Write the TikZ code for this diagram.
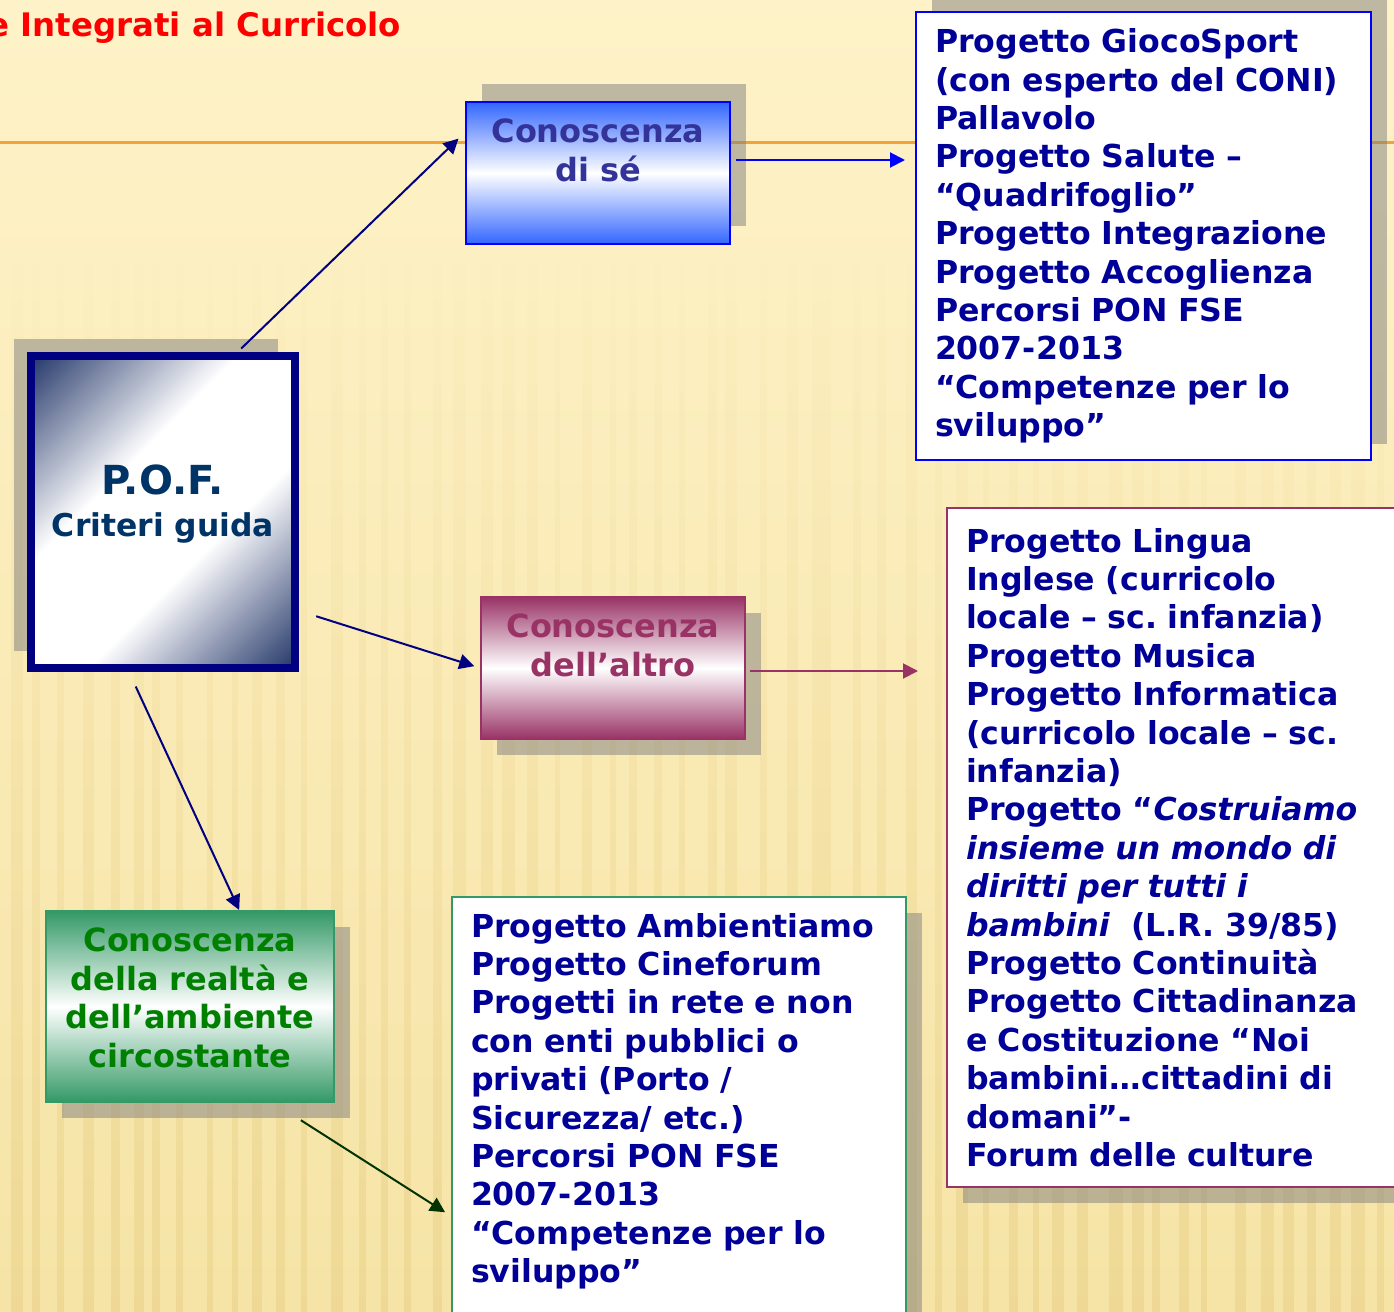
\documentclass[tikz,border=0pt]{standalone}
\usepackage{fontspec}
\setmainfont{DejaVu Sans}
\usetikzlibrary{arrows.meta,shadows,fadings}

\definecolor{cream}{RGB}{254,242,200}
\definecolor{sand}{RGB}{246,228,166}
\definecolor{wheat}{RGB}{226,196,118}
\definecolor{lineorange}{RGB}{240,164,56}
\definecolor{navyline}{RGB}{0,0,128}
\definecolor{listblue}{RGB}{0,0,153}
\definecolor{selfblue}{RGB}{51,102,255}
\definecolor{selftext}{RGB}{51,51,153}
\definecolor{plum}{RGB}{153,51,102}
\definecolor{sea}{RGB}{51,153,102}
\definecolor{leaf}{RGB}{0,128,0}
\definecolor{darkleaf}{RGB}{0,51,0}
\definecolor{pofnavy}{RGB}{31,51,102}
\definecolor{poftext}{RGB}{0,51,102}

\pgfdeclareverticalshading{pofgrad}{100bp}{color(0bp)=(pofnavy); color(14bp)=(pofnavy);
  color(40bp)=(white); color(60bp)=(white); color(86bp)=(pofnavy); color(100bp)=(pofnavy)}

\begin{document}
\frenchspacing
\begin{tikzpicture}[x=0.5pt,y=-0.5pt,
  cbox/.style ={rectangle,draw,line width=1pt,minimum width=132pt,minimum height=71pt,
                align=center,font=\fontsize{16}{19.3}\selectfont\bfseries},
  lbox/.style ={rectangle,draw,fill=white,line width=1pt,anchor=north west,align=left,
                inner xsep=9.5pt,text=listblue,font=\fontsize{15.8}{19.2}\selectfont\bfseries},
  shadowdown/.style={drop shadow={shadow xshift=8pt,shadow yshift=-8pt}},
  pad/.style  ={execute at end node={\rule[-#1]{0pt}{0pt}}},
  arrow/.style={-{Triangle[length=7.5pt,width=7.5pt]},line width=1pt},
]
% sfondo
\useasboundingbox (0,0) rectangle (1394,1312);
\fill[top color=cream,bottom color=sand] (0,0) rectangle (1394,1312);
\pgfmathsetseed{11}
\foreach \i in {0,...,55}
  \fill[wheat,opacity=.35,path fading=north] ({\i*25+rnd*12},260) rectangle ++({5+rnd*9},1052);
\draw[lineorange,line width=1.5pt] (0,142) -- (1394,142);
\node[anchor=base west,inner sep=0pt,text=red,font=\fontsize{16.2}{20}\selectfont\bfseries]
  (title) at (-13,36) {e Integrati al Curricolo};

% nodi
\node[rectangle,draw=navyline,line width=4pt,shade,shading=pofgrad,shading angle=45,
      minimum width=132pt,minimum height=156pt,align=center,text=poftext,
      font=\fontsize{15.7}{21}\selectfont\bfseries,pad=11pt,
      drop shadow={shadow xshift=-8.5pt,shadow yshift=8.5pt}]
  (pof) at (163,512) {{\fontsize{20}{21}\selectfont P.O.F.}\\Criteri guida};
\node[cbox,draw=blue,top color=selfblue,bottom color=selfblue,middle color=white,text=selftext,
      drop shadow={shadow xshift=8pt,shadow yshift=9pt},pad=23pt]
  (ds) at (598,173) {Conoscenza\\di sé};
\node[cbox,draw=plum,top color=plum,bottom color=plum,middle color=white,text=plum,
      shadowdown,pad=23pt]
  (altro) at (613,668) {Conoscenza\\dell’altro};
\node[cbox,draw=sea,minimum width=144pt,minimum height=95.5pt,top color=sea,bottom color=sea,
      middle color=white,text=leaf,shadowdown,pad=9pt]
  (grn) at (190,1006.5) {Conoscenza\\della realtà e\\dell’ambiente\\circostante};

\node[lbox,draw=blue,text width=208.5pt,minimum height=224pt,
      drop shadow={shadow xshift=8pt,shadow yshift=8pt}]
  (gs) at (915,11) {Progetto GiocoSport\\(con esperto del CONI)\\Pallavolo\\
    Progetto Salute –\\“Quadrifoglio”\\Progetto Integrazione\\Progetto Accoglienza\\
    Percorsi PON FSE\\2007-2013\\“Competenze per lo\\sviluppo”};
\node[lbox,draw=plum,text width=220pt,minimum height=339.5pt,shadowdown]
  (pr) at (946,507) {Progetto Lingua\\Inglese (curricolo\\locale – sc. infanzia)\\
    Progetto Musica\\Progetto Informatica\\(curricolo locale – sc.\\infanzia)\\
    Progetto “\textit{Costruiamo}\\\textit{insieme un mondo di}\\\textit{diritti per tutti i}\\
    \textit{bambini}~ (L.R. 39/85)\\Progetto Continuità\\Progetto Cittadinanza\\
    e Costituzione “Noi\\bambini…cittadini di\\domani”-\\Forum delle culture};
\node[lbox,draw=sea,text width=208pt,inner ysep=8pt,shadowdown,pad=40pt]
  (amb) at (451,896) {Progetto Ambientiamo\\Progetto Cineforum\\Progetti in rete e non\\
    con enti pubblici o\\privati (Porto /\\Sicurezza/ etc.)\\Percorsi PON FSE\\
    2007-2013\\“Competenze per lo\\sviluppo”};

% frecce
\draw[arrow,navyline,shorten <=2.5pt,shorten >=4.5pt] (pof.65) -- (ds.163);
\draw[arrow,navyline,shorten <=9pt,shorten >=3pt] (pof.-36) -- (altro.west);
\draw[arrow,navyline,shorten <=8pt] (pof.-102) -- (grn.63);
\draw[arrow,darkleaf,shorten <=16pt,shorten >=3.5pt] (grn.-49) -- ([yshift=-160pt]amb.north west);
\coordinate (dsout) at ([yshift=6.5pt]ds.east);
\draw[arrow,blue,shorten <=2.5pt,shorten >=5pt] (dsout) -- (dsout -| gs.west);
\coordinate (altout) at ([yshift=-1.5pt]altro.east);
\draw[arrow,plum,shorten <=2pt,shorten >=14pt] (altout) -- (altout -| pr.west);
\end{tikzpicture}
\end{document}
